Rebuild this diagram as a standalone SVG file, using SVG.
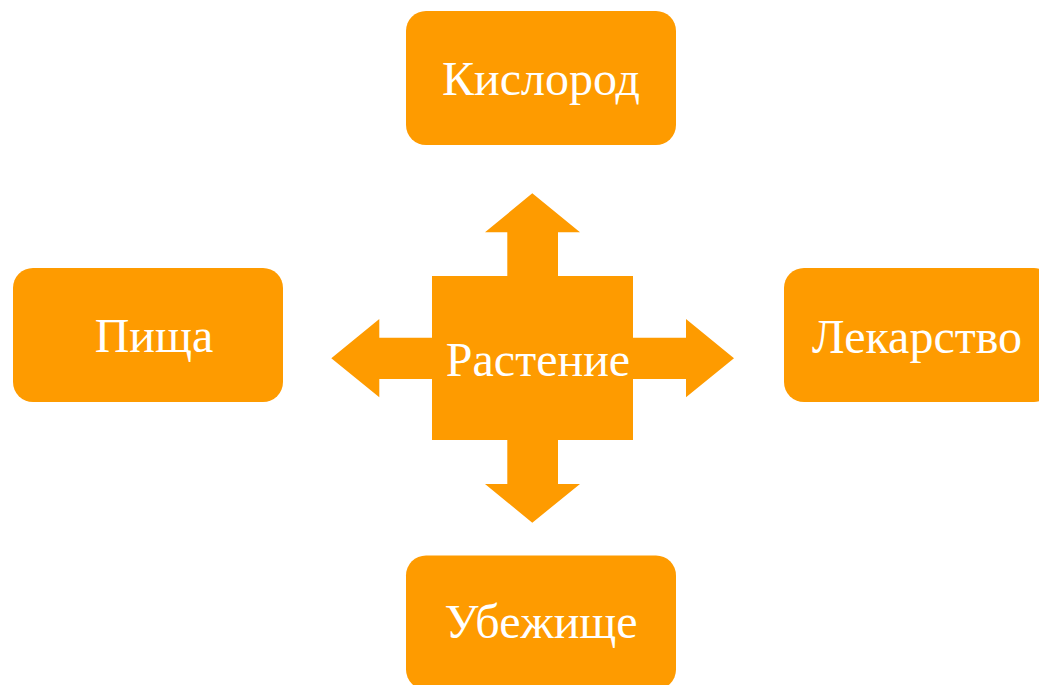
<svg xmlns="http://www.w3.org/2000/svg" width="1039" height="685" viewBox="0 0 1039 685">
<style>
.box{fill:#FE9B00}
.lbl{font-family:"Liberation Serif","Times New Roman",serif;font-size:48px;fill:#FFFFFF;text-anchor:middle}
</style>
<rect width="1039" height="685" fill="#FFFFFF"/>
<g id="connectors">
<polygon class="box" points="532.3,193.3 580,232.3 558,232.3 558,276 633,276 633,337.7 686,337.7 686,319 734,358.3 686,397.3 686,379 633,379 633,440 558,440 558,484 580,484 532.3,522.7 485,484 507.3,484 507.3,440 432,440 432,379 379.3,379 379.3,397.3 331.3,358.3 379.3,319 379.3,337.7 432,337.7 432,276 507.3,276 507.3,232.3 485,232.3"/>
</g>
<g id="node-center">
<text class="lbl" x="538" y="376">Растение</text>
</g>
<g id="node-top">
<rect class="box" x="406" y="11" width="270" height="134" rx="20"/>
<text class="lbl" x="541" y="95">Кислород</text>
</g>
<g id="node-left">
<rect class="box" x="13" y="268" width="270" height="134" rx="20"/>
<text class="lbl" x="154" y="352">Пища</text>
</g>
<g id="node-right">
<rect class="box" x="784" y="268" width="270" height="134" rx="20"/>
<text class="lbl" x="917" y="352.5">Лекарство</text>
</g>
<g id="node-bottom">
<rect class="box" x="406" y="555.5" width="270" height="134" rx="20"/>
<text class="lbl" x="541" y="638">Убежище</text>
</g>
</svg>
